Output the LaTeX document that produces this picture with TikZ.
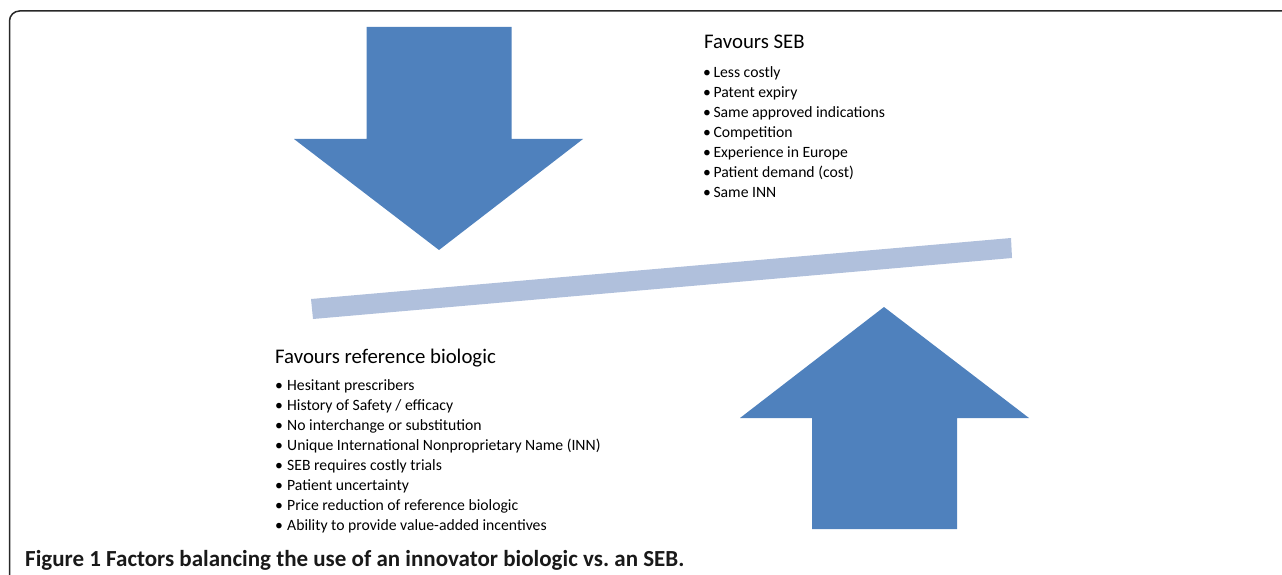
\documentclass[tikz,border=0pt]{standalone}
\usepackage{fontspec}
\setmainfont{Carlito}
\definecolor{arrowblue}{RGB}{79,129,189}
\definecolor{barblue}{RGB}{176,192,220}
\definecolor{framegray}{RGB}{40,40,40}
\frenchspacing
\begin{document}
\begin{tikzpicture}[x=1pt,y=-1pt,
  arrowshape/.style={fill=arrowblue, draw=none},
  barshape/.style={fill=barblue, draw=none},
  heading/.style={anchor=base west, inner sep=0pt, font=\fontsize{20.8}{24}\selectfont},
  item/.style={anchor=base west, inner sep=0pt, font=\fontsize{15.7}{18}\selectfont},
  captext/.style={anchor=base west, inner sep=0pt, font=\bfseries\fontsize{23}{26}\selectfont, text=black!90}]
\useasboundingbox (0,0) rectangle (1282,575);
\draw[framegray, line width=1.5, rounded corners=10] (9.5,585) -- (9.5,11) -- (1295,11);
% down arrow
\fill[arrowshape] (366.5,27) -- (511.5,27) -- (511.5,139) -- (583,139) -- (439,250) -- (294,139) -- (366.5,139) -- cycle;
% up arrow
\fill[arrowshape] (884,307) -- (1029,418) -- (957,418) -- (957,529) -- (812,529) -- (812,418) -- (740,418) -- cycle;
% balance bar
\fill[barshape] (311,299) -- (1011,238) -- (1012,258) -- (313,319) -- cycle;
% texts
\node[heading] (sebhead) at (704,49) {Favours SEB};
\foreach \t [count=\i] in {Less costly, Patent expiry, Same approved indications, Competition, Experience in Europe, Patient demand (cost), Same INN}
  \node[item] (seb\i) at (703,{77.3+20*(\i-1)}) {\makebox[10.3pt][l]{•}\t};
\node[heading] (refhead) at (275,363.3) {Favours reference biologic};
\foreach \t [count=\i] in {Hesitant prescribers, History of Safety / efficacy, No interchange or substitution, Unique International Nonproprietary Name (INN), SEB requires costly trials, Patient uncertainty, Price reduction of reference biologic, Ability to provide value-added incentives}
  \node[item] (ref\i) at (275,{390+20*(\i-1)}) {\makebox[12pt][l]{•}\t};
\node[captext] (caption) at (25,566) {Figure 1 Factors balancing the use of an innovator biologic vs. an SEB.};
\end{tikzpicture}
\end{document}
